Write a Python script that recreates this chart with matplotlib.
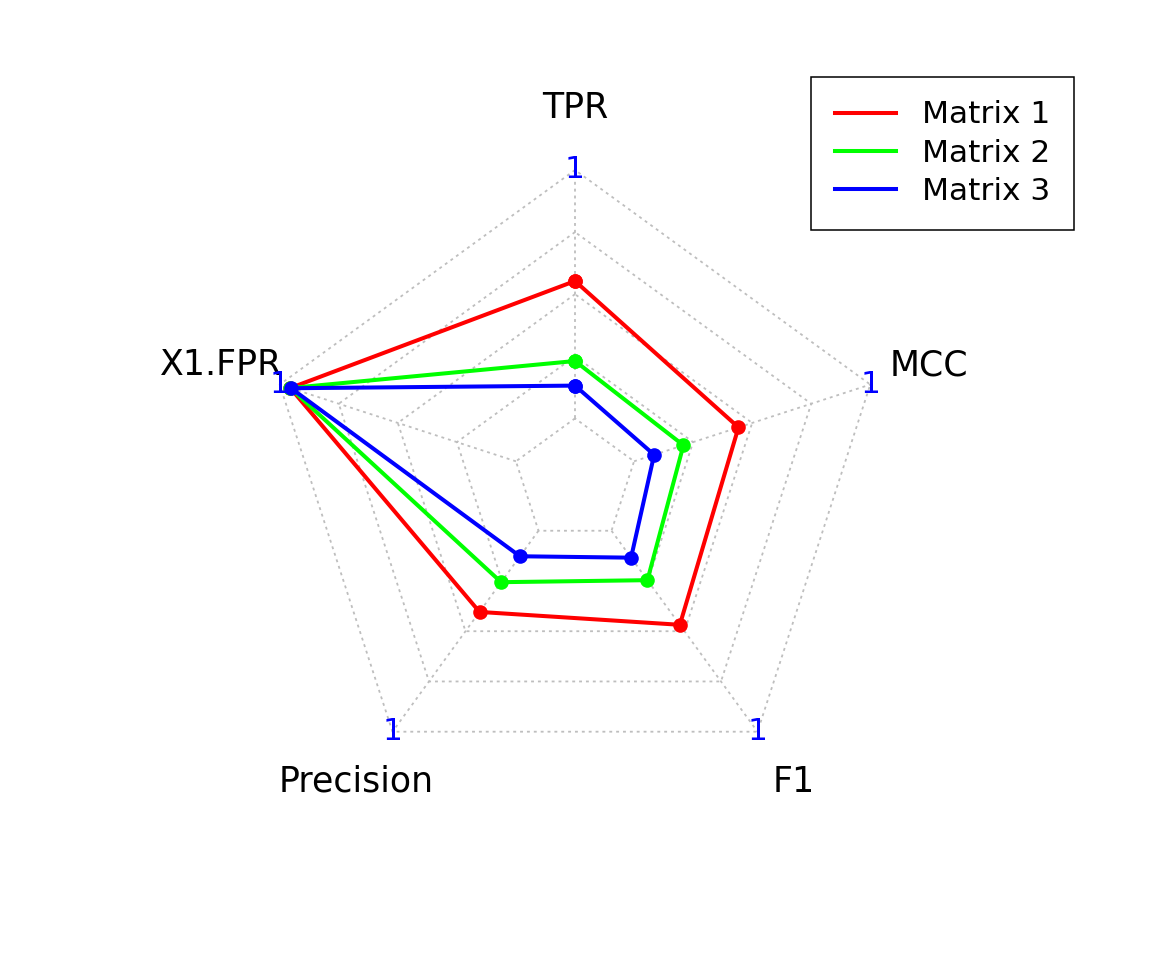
import numpy as np
import matplotlib
matplotlib.use("Agg")
import matplotlib.pyplot as plt

# axes in fmsb order (counter-clockwise from top)
categories = ["TPR", "X1.FPR", "Precision", "F1", "MCC"]
series_names = ["Matrix 1", "Matrix 2", "Matrix 3"]
matrix1 = [0.553, 0.955, 0.404, 0.468, 0.442]
matrix2 = [0.231, 0.955, 0.256, 0.246, 0.209]
matrix3 = [0.132, 0.952, 0.127, 0.134, 0.085]
axis_max = [1, 1, 1, 1, 1]
axis_min = [0, 0, 0, 0, 0]
colors = ["#FF0000", "#00FF00", "#0000FF"]

seg = 4
cgap = 1

W, H, dpi = 1152, 960, 100
cx, cy, R = 575.0, 480.5, 310.5

fig = plt.figure(figsize=(W / dpi, H / dpi), dpi=dpi)
ax = fig.add_axes([0, 0, 1, 1])
ax.set_xlim(-cx / R, (W - cx) / R)
ax.set_ylim(-(H - cy) / R, cy / R)
ax.axis("off")

n = len(categories)
ang = np.pi / 2 + 2 * np.pi * np.arange(n) / n
xx, yy = np.cos(ang), np.sin(ang)

grid_kw = dict(color="#BEBEBE", lw=1.3, dashes=(1.6, 2.2), zorder=1)
for k in range(seg + 1):
    f = (k + cgap) / (seg + cgap)
    ax.plot(np.append(xx, xx[0]) * f, np.append(yy, yy[0]) * f, **grid_kw)
f0 = cgap / (seg + cgap)
for i in range(n):
    ax.plot([xx[i] * f0, xx[i]], [yy[i] * f0, yy[i]], **grid_kw)

lo = np.array(axis_min, float)
hi = np.array(axis_max, float)
for vals, col, name in zip([matrix1, matrix2, matrix3], colors, series_names):
    v = (np.array(vals) - lo) / (hi - lo)
    r = f0 + v * seg / (seg + cgap)
    px = np.append(xx * r, xx[0] * r[0])
    py = np.append(yy * r, yy[0] * r[0])
    ax.plot(px, py, color=col, lw=2.9, zorder=3,
            marker="o", markersize=10.5, markeredgewidth=0, label=name)

for i, lab in enumerate(categories):
    ax.text(xx[i] * 1.2, yy[i] * 1.2, lab, fontsize=25,
            ha="center", va="center", zorder=4)
    ax.text(xx[i], yy[i], "{:g}".format(axis_max[i]), fontsize=22.5,
            color="#0000FF", ha="center", va="center", zorder=4)

leg_lines = [plt.Line2D([], [], color=c, lw=2.9) for c in colors]
leg = fig.legend(leg_lines, series_names, loc="upper right",
                 bbox_to_anchor=(1074 / W, 1 - 77 / H), fontsize=22.5,
                 frameon=True, fancybox=False, framealpha=1,
                 edgecolor="black", handlelength=1.95, handletextpad=0.85,
                 borderpad=0.75, labelspacing=0.3, borderaxespad=0)
leg.get_frame().set_linewidth(1.1)

fig.savefig("out.png", dpi=dpi)
